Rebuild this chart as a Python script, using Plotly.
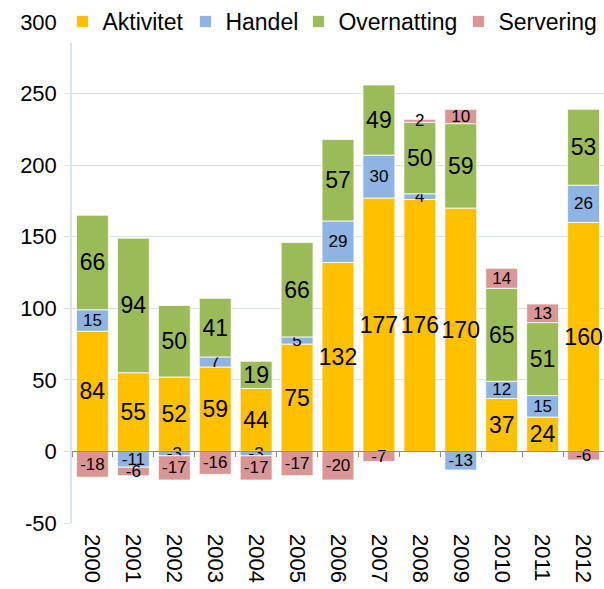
import plotly.graph_objects as go

years = ["2000", "2001", "2002", "2003", "2004", "2005", "2006",
         "2007", "2008", "2009", "2010", "2011", "2012"]
aktivitet = [84, 55, 52, 59, 44, 75, 132, 177, 176, 170, 37, 24, 160]
handel = [15, -11, -3, 7, -3, 5, 29, 30, 4, -13, 12, 15, 26]
overnatting = [66, 94, 50, 41, 19, 66, 57, 49, 50, 59, 65, 51, 53]
servering = [-18, -6, -17, -16, -17, -17, -20, -7, 2, 10, 14, 13, -6]
y_ticks = [-50, 0, 50, 100, 150, 200, 250, 300]

series = [
    ("Aktivitet", aktivitet, "#FFC000", 23, 78),
    ("Handel", handel, "#8DB4E2", 17, 68),
    ("Overnatting", overnatting, "#9BBB59", 23, 115),
    ("Servering", servering, "#DA9694", 17, 100),
]

FONT = "Liberation Sans, Arial, sans-serif"
GRID = "#D9E2F0"
AXIS = "#8C8C8C"

fig = go.Figure()
for name, vals, color, fs, lw in series:
    fig.add_trace(go.Bar(
        name=name, x=years, y=vals,
        text=[str(v) for v in vals],
        marker=dict(color=color, line=dict(color="white", width=0.8)),
        texttemplate="%{text}", textposition="inside", insidetextanchor="middle",
        textangle=0, constraintext="none",
        textfont=dict(size=fs, color="black", family=FONT),
        cliponaxis=False, legendwidth=lw,
    ))

# helper (invisible) trace so the zero-line category axis is drawn
fig.add_trace(go.Scatter(x=years, y=[0] * len(years), xaxis="x2", mode="none",
                         showlegend=False, hoverinfo="skip"))

ymin, ymax = -50, 300
fig.update_layout(
    width=604, height=589,
    margin=dict(l=72, r=0, t=22, b=66, autoexpand=False),
    barmode="relative", bargap=0.22,
    plot_bgcolor="white", paper_bgcolor="white",
    font=dict(family=FONT, size=22, color="black"),
    showlegend=True,
    legend=dict(orientation="h", x=-0.018, xanchor="left", y=1.001,
                yanchor="middle", bgcolor="rgba(255,255,255,1)",
                font=dict(size=23), traceorder="normal", itemclick=False),
    xaxis=dict(type="category", categoryarray=years, tickangle=90,
               tickfont=dict(size=22), showgrid=False, showline=False,
               ticks="", ticklabelstandoff=10, range=[-0.5, 12.5],
               automargin=False),
    xaxis2=dict(type="category", categoryarray=years, overlaying="x",
                anchor="free", position=(0 - ymin) / (ymax - ymin),
                range=[-0.5, 12.5], showticklabels=False, showgrid=False,
                ticks="outside", tickson="boundaries", ticklen=5,
                tickcolor=AXIS, showline=True, linecolor=AXIS, linewidth=1,
                layer="above traces", automargin=False),
    yaxis=dict(range=[ymin, ymax], tickvals=y_ticks,
               ticktext=[str(v) for v in y_ticks], showgrid=True,
               gridcolor=GRID, gridwidth=1, zeroline=False, showline=True,
               linecolor=GRID, linewidth=1.5, ticks="outside", ticklen=6,
               tickcolor=GRID, tickfont=dict(size=22), ticklabelstandoff=3,
               automargin=False),
)

fig.write_html("out.html",
               config={"displayModeBar": False},
               post_script="document.body.style.margin='0px';"
                           "document.body.style.overflow='hidden';")
